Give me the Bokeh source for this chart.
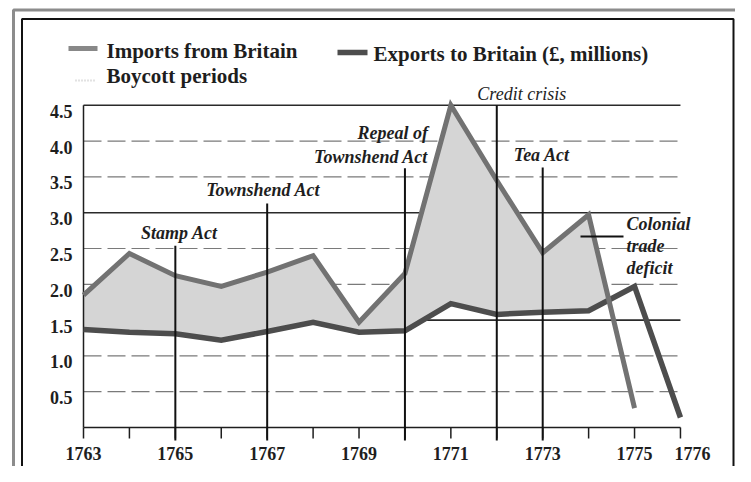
import numpy as np
from bokeh.plotting import figure
from bokeh.models import Range1d
from bokeh.core.properties import value
from bokeh.embed import file_html
from bokeh.resources import INLINE

# ---------------- data ----------------
import_years = [1763, 1764, 1765, 1766, 1767, 1768, 1769, 1770, 1771, 1772, 1773, 1774, 1775]
imports = [1.85, 2.43, 2.12, 1.97, 2.17, 2.40, 1.47, 2.15, 4.50, 3.45, 2.44, 2.97, 0.27]
export_years = [1763, 1764, 1765, 1766, 1767, 1768, 1769, 1770, 1771, 1772, 1773, 1774, 1775, 1776]
exports = [1.37, 1.33, 1.31, 1.22, 1.34, 1.47, 1.33, 1.35, 1.73, 1.58, 1.61, 1.63, 1.97, 0.14]

x_ticks = list(range(1763, 1777))
x_tick_labels = ["1763", "1765", "1767", "1769", "1771", "1773", "1775", "1776"]
y_ticks = [0.5, 1.0, 1.5, 2.0, 2.5, 3.0, 3.5, 4.0, 4.5]
y_tick_labels = ["0.5", "1.0", "1.5", "2.0", "2.5", "3.0", "3.5", "4.0", "4.5"]
strong_grid = [1.5, 3.0, 4.5]

event_names = ["Stamp Act", "Townshend Act", "Repeal of Townshend Act", "Credit crisis", "Tea Act"]
event_years = [1765, 1767, 1770, 1772, 1773]

legend_labels = ["Imports from Britain", "Exports to Britain (£, millions)", "Boycott periods"]
deficit_label = ["Colonial", "trade", "deficit"]

# ---------------- layout ----------------
W, H = 735, 466
X0_PX, XS = 83.0, 45.92     # pixel of 1763, pixels per year
Y0_PX, YS = 427.0, 71.6     # pixel of 0, pixels per unit
x_start = x_ticks[0] - X0_PX / XS
x_end = x_start + W / XS
y_end = Y0_PX / YS
y_start = y_end - H / YS

def sx(px):
    return x_start + px / XS

def sy(py):
    return y_end - py / YS

FONT = value("Liberation Serif")
INK = "#1e1e1e"
IMP_C = "#727272"
EXP_C = "#4d4d4d"

p = figure(width=W, height=H, x_range=Range1d(x_start, x_end), y_range=Range1d(y_start, y_end),
           min_border=0, toolbar_location=None, output_backend="svg",
           x_axis_location=None, y_axis_location=None)
p.grid.visible = False
p.outline_line_color = None
p.background_fill_color = "white"
p.border_fill_color = "white"

# frame (outer grey band, inner black line)
p.line([sx(13), sx(13), sx(760)], [sy(490), sy(9.5), sy(9.5)], line_color="#8c8c8c", line_width=3)
p.line([sx(21.5), sx(21.5), sx(733), sx(733)], [sy(490), sy(18.5), sy(18.5), sy(490)],
       line_color="#111111", line_width=2)

# grid lines
x0, x1 = x_ticks[0], x_ticks[-1]
minor = [v for v in y_ticks if v not in strong_grid]
p.segment(x0=[x0] * len(minor), x1=[x1] * len(minor), y0=minor, y1=minor,
          line_color="#7a7a7a", line_width=1.2, line_dash="18 6")
p.segment(x0=[x0] * len(strong_grid), x1=[x1] * len(strong_grid), y0=strong_grid, y1=strong_grid,
          line_color="#2a2a2a", line_width=1.6)

# deficit fill (imports above exports, up to their crossing)
imp = np.array(imports)
exp_i = np.array(exports[:len(imports)])
d = imp - exp_i
k = int(np.where(d < 0)[0][0])
t = d[k - 1] / (d[k - 1] - d[k])
xc = import_years[k - 1] + t * (import_years[k] - import_years[k - 1])
yc = imp[k - 1] + t * (imp[k] - imp[k - 1])
fx = list(import_years[:k]) + [xc]
fy1 = list(exp_i[:k]) + [yc]
fy2 = list(imp[:k]) + [yc]
p.varea(x=fx, y1=fy1, y2=fy2, fill_color="#d5d5d5")

# axes
tick_len = 11 / YS
p.segment(x0=x_ticks, x1=x_ticks, y0=[0] * len(x_ticks), y1=[-tick_len] * len(x_ticks),
          line_color=INK, line_width=1.5)
p.line([x0, x1], [0, 0], line_color=INK, line_width=1.5)
p.line([x0, x0], [0, y_ticks[-1]], line_color=INK, line_width=1.5)

# data lines
p.line(export_years, exports, line_color=EXP_C, line_width=5.5, line_join="miter", line_cap="butt")
p.line(import_years, imports, line_color=IMP_C, line_width=5, line_join="miter", line_cap="butt")

# event lines
line_tops = [2.54, 3.13, 3.62, 4.5, 3.63]
p.segment(x0=event_years, x1=event_years, y0=line_tops, y1=[-13 / YS] * len(event_years),
          line_color="#111111", line_width=2)

# tick labels
lab_years = [int(s) for s in x_tick_labels]
xoff = [12 if y == x1 else 0 for y in lab_years]
p.text(x=lab_years, y=[0] * len(lab_years), text=x_tick_labels, x_offset=xoff, y_offset=26,
       text_font=FONT, text_font_style="bold", text_font_size="18px", text_color=INK,
       text_align="center", text_baseline="middle")
p.text(x=[x0] * len(y_ticks), y=y_ticks, text=y_tick_labels, x_offset=-11, y_offset=6,
       text_font=FONT, text_font_style="bold", text_font_size="18px", text_color=INK,
       text_align="right", text_baseline="middle")

# event labels
ev_style = dict(text_font=FONT, text_font_size="18px", text_color=INK, text_baseline="middle")
p.text(x=[event_years[0], event_years[1], event_years[4]], y=[2.71, 3.32, 3.80],
       text=[event_names[0], event_names[1], event_names[4]], x_offset=[4, -4, -1],
       text_font_style="bold italic", text_align="center", **ev_style)
rep = event_names[2].split(" ", 2)
p.text(x=[event_years[2]] * 2, y=[4.11, 3.78], text=[" ".join(rep[:2]), rep[2]], x_offset=23,
       text_font_style="bold italic", text_align="right", **ev_style)
p.text(x=[event_years[3]], y=[4.66], text=[event_names[3]], x_offset=25,
       text_font_style="italic", text_align="center", **ev_style)

# colonial trade deficit annotation
p.text(x=[sx(626)] * 3, y=[sy(223), sy(245), sy(267)], text=deficit_label,
       text_font_style="bold italic", text_align="left", **ev_style)
p.line([sx(580), sx(623)], [sy(236), sy(236)], line_color="#111111", line_width=2)

# legend
p.line([sx(68), sx(97)], [sy(48), sy(48)], line_color="#888888", line_width=5)
p.line([sx(337), sx(367)], [sy(52), sy(52)], line_color=EXP_C, line_width=5.5)
p.line([sx(75), sx(96)], [sy(80), sy(80)], line_color="#c4c4c4", line_width=2, line_dash="1 2")
p.text(x=[sx(106), sx(373), sx(106)], y=[sy(50), sy(53), sy(75)], text=legend_labels,
       text_font=FONT, text_font_style="bold", text_font_size="21px", text_color=INK,
       text_align="left", text_baseline="middle")

open("out.html", "w").write(file_html(p, INLINE))
